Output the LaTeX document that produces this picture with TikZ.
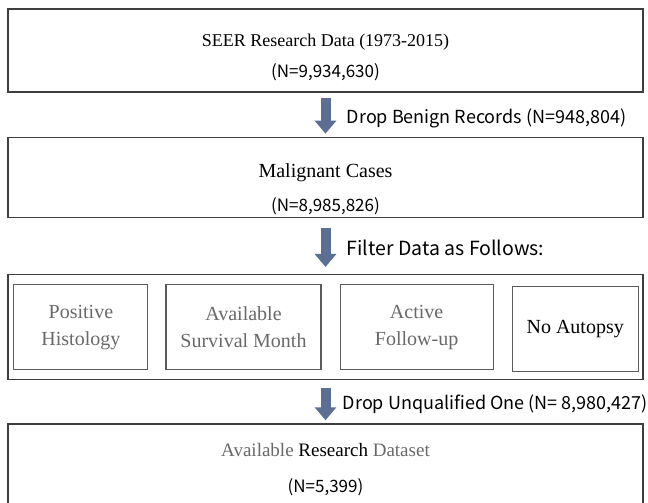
\documentclass[tikz,border=0pt]{standalone}
\usepackage{fontspec}
\setmainfont{Liberation Serif}
\newfontfamily\numfont{Noto Sans CJK KR}
\usepackage{xcolor}
\definecolor{seergray}{RGB}{62,62,62}
\definecolor{seertext}{RGB}{105,105,105}
\definecolor{seerblue}{RGB}{92,110,146}
\usepackage{tikz}
\usetikzlibrary{arrows.meta,positioning}
\newcommand{\countline}[1]{{\numfont\fontsize{17}{20}\selectfont #1}}
\tikzset{
  bigbox/.style={draw=seergray,line width=1.3pt,minimum width=635pt,align=center,inner sep=0pt,font=\fontsize{19}{28}\selectfont},
  filterbox/.style={draw=seergray!85,line width=1.1pt,minimum height=85pt,align=center,inner sep=0pt,font=\fontsize{20}{27}\selectfont,text=seertext},
  flow/.style={-{Triangle[width=21pt,length=13pt]},draw=seerblue,line width=10pt},
  steplabel/.style={font=\numfont\fontsize{18}{20}\selectfont,right=13pt},
}

\begin{document}
\begin{tikzpicture}[x=1pt,y=-1pt]
\useasboundingbox (0,0) rectangle (648,503);
% Step 0: raw registry
\node[bigbox,minimum height=83pt] (seer) at (325.5,50.5)
  {\rule{0pt}{26pt}{\fontsize{18}{28}\selectfont SEER Research Data (1973-2015)}\\[3pt]\countline{(N=9,934,630)}};

% Step 1: malignant only
\node[bigbox,minimum height=80pt,below=44pt of seer] (malig)
  {\rule{0pt}{38pt}{\fontsize{20}{28}\selectfont Malignant Cases}\\[6pt]\countline{(N=8,985,826)}};

% Step 2: filters
\node[bigbox,minimum height=105pt,below=56pt of malig] (filt) {};
\node[filterbox,minimum width=134pt,right=6pt of filt.west] (histo) {Positive\\Histology};
\node[filterbox,minimum width=155pt,right=17pt of histo] (surv) {Available\\Survival Month};
\node[filterbox,minimum width=153pt,right=18pt of surv] (follow) {Active\\Follow-up};
\node[filterbox,minimum width=126pt,right=18pt of follow,text=black,yshift=-2pt] (autop) {No Autopsy};

% Step 3: final set
\node[bigbox,minimum height=82pt,below=43pt of filt] (final)
  {\rule{0pt}{22pt}{\color{seertext}Available} Research {\color{seertext}Dataset}\\[8pt]\countline{(N=5,399)}};

% arrows between steps
\draw[flow] ([yshift=-5pt]seer.south) -- node[steplabel,yshift=-3pt] {Drop Benign Records (N=948,804)} ([yshift=3pt]malig.north);
\draw[flow] ([yshift=-10pt]malig.south) -- node[steplabel,font=\numfont\fontsize{19.5}{20}\selectfont] {Filter Data as Follows:} ([yshift=7pt]filt.north);
\draw[flow] ([yshift=-8pt]filt.south) -- node[steplabel,right=9pt] {Drop Unqualified One (N= 8,980,427)} ([yshift=3pt]final.north);
\end{tikzpicture}
\end{document}
